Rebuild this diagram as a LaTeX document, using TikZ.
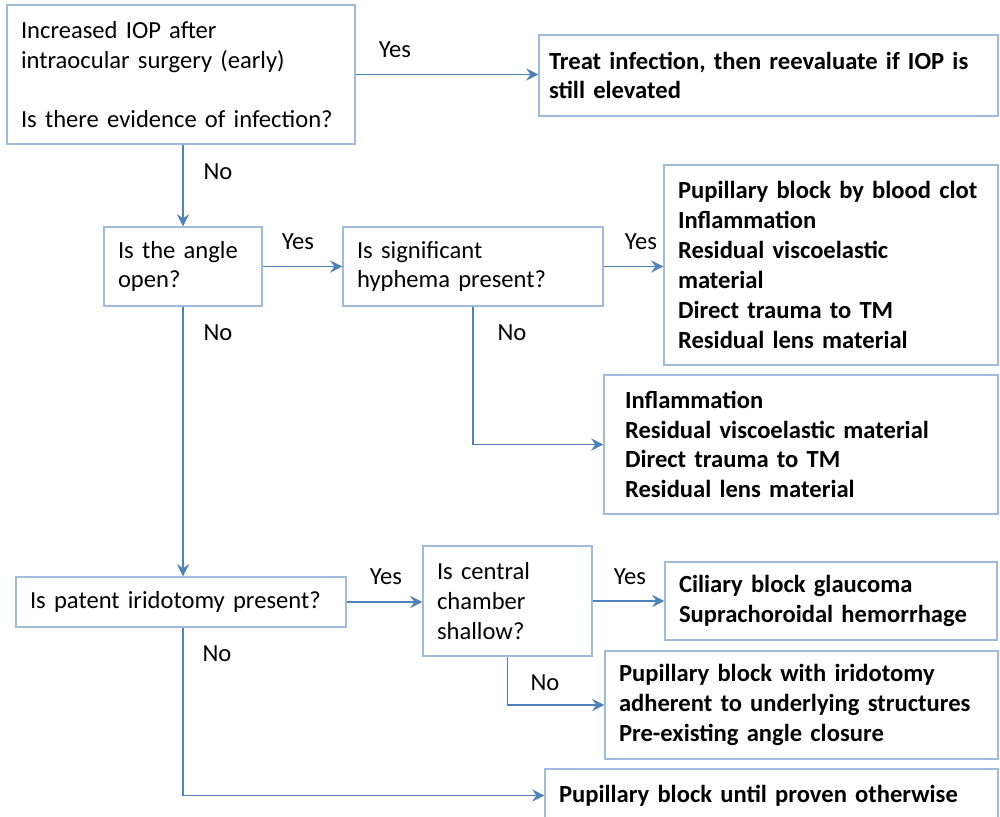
\documentclass[tikz,border=0pt]{standalone}
\usepackage{fontspec}
\setmainfont{Carlito}
\usepackage{tikz}
\usetikzlibrary{
  arrows.meta,
  positioning
}
\definecolor{boxline}{RGB}{160,188,220}
\definecolor{arrline}{RGB}{79,129,189}

\begin{document}
\begin{tikzpicture}[x=0.02cm, y=-0.02cm,
    box/.style={draw=boxline, line width=0.8pt, fill=white, align=left, inner xsep=0pt, inner ysep=0pt,
      font=\fontsize{14pt}{17pt}\selectfont},
    result/.style={box, font=\fontsize{14pt}{17pt}\selectfont\bfseries},
    arr/.style={draw=arrline, line width=0.8pt, -{Stealth[length=7pt, width=7pt, inset=2.5pt]}},
    lbl/.style={font=\fontsize{14pt}{17pt}\selectfont, inner sep=0pt}]
    \path[fill=white, use as bounding box] (0,0) rectangle (1000,817);

    % Level 1: infection check
    \node[box, minimum width=6.96cm, minimum height=2.78cm, text width=6.4cm] (start) at (181,74.5)
      {Increased IOP after\\intraocular surgery (early)\\[17pt]Is there evidence of infection?};
    \node[result, minimum width=9.18cm, minimum height=1.62cm, text width=8.78cm] (treat) at (768.5,75.5)
      {Treat infection, then reevaluate if IOP is\\still elevated};

    % Level 2: open angle
    \node[box, minimum width=3.16cm, minimum height=1.58cm, text width=2.6cm] (angle) at (183,266.5)
      {Is the angle\\open?};
    \node[box, minimum width=5.2cm, minimum height=1.58cm, text width=4.64cm] (hyph) at (473,266.5)
      {Is significant\\hyphema present?};
    \node[result, minimum width=6.68cm, minimum height=4cm, text width=6.12cm] (clot) at (831,265)
      {Pupillary block by blood clot\\Inflammation\\Residual viscoelastic\\material\\Direct trauma to TM\\Residual lens material};
    \node[result, minimum width=7.88cm, minimum height=2.78cm, text width=7.04cm] (open) at (801,444.5)
      {Inflammation\\Residual viscoelastic material\\Direct trauma to TM\\Residual lens material};

    % Level 3: iridotomy
    \node[box, minimum width=6.6cm, minimum height=1cm, text width=6.04cm] (patent) at (181,602)
      {Is patent iridotomy present?};
    \node[box, minimum width=3.38cm, minimum height=2.2cm, text width=2.82cm] (central) at (507.5,601)
      {Is central\\chamber\\shallow?};
    \node[result, minimum width=6.64cm, minimum height=1.56cm, text width=6.08cm] (cil) at (831,601)
      {Ciliary block glaucoma\\Suprachoroidal hemorrhage};
    \node[result, minimum width=7.86cm, minimum height=2.16cm, text width=7.3cm] (irid) at (801.5,705)
      {Pupillary block with iridotomy\\adherent to underlying structures\\Pre-existing angle closure};
    \node[result, minimum width=9.06cm, minimum height=1.06cm, text width=8.5cm] (block) at (771.5,795.5)
      {Pupillary block until proven otherwise};

    % Connectors
    \draw[arr] (start.east) -- (start.east -| treat.west);
    \draw[arr] (angle.north |- start.south) -- (angle.north);
    \draw[arr] (angle.east) -- (hyph.west);
    \draw[arr] (hyph.east) -- (hyph.east -| clot.west);
    \draw[arr] (hyph.south) |- (open.west);
    \draw[arr] (angle.south) -- (angle.south |- patent.north);
    \draw[arr] (patent.east) -- (patent.east -| central.west);
    \draw[arr] (central.east) -- (central.east -| cil.west);
    \draw[arr] (central.south) |- (irid.west);
    \draw[arr] (angle.south |- patent.south) |- (block.west);

    % Yes / No labels
    \node[lbl] (yes1) at (395,50) {Yes};
    \node[lbl] (no1) at (218,172) {No};
    \node[lbl] (yes2) at (298,242) {Yes};
    \node[lbl] (yes3) at (641,242) {Yes};
    \node[lbl] (no2) at (512,333) {No};
    \node[lbl] (no3) at (218,333) {No};
    \node[lbl] (yes4) at (386,577) {Yes};
    \node[lbl] (yes5) at (630,577) {Yes};
    \node[lbl] (no4) at (545,683) {No};
    \node[lbl] (no5) at (217,654) {No};
  \end{tikzpicture}
\end{document}
